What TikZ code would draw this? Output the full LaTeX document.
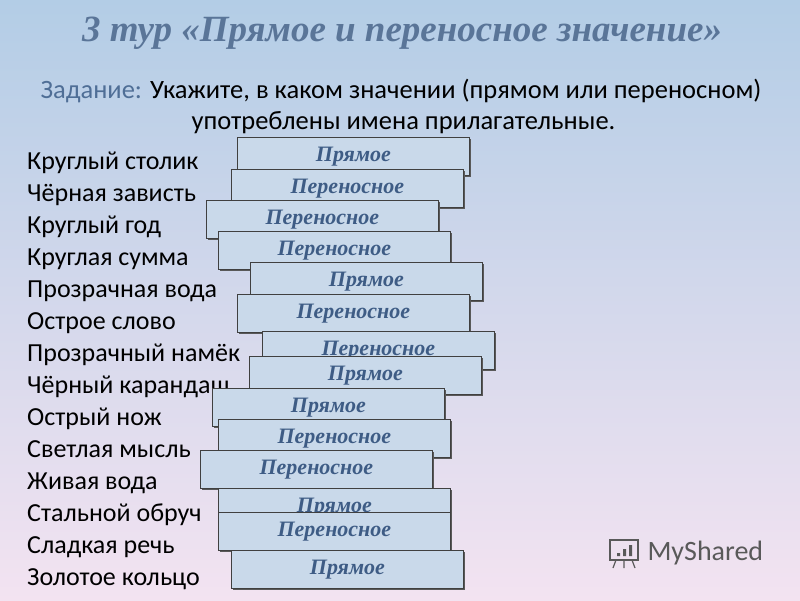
\documentclass[tikz,border=0pt]{standalone}
\usepackage{fontspec}
\setmainfont{Carlito}
\newfontfamily\ser{Liberation Serif}
\definecolor{bgtop}{HTML}{B3CDE6}
\definecolor{bgbot}{HTML}{F3E3F1}
\definecolor{ttl}{HTML}{5A7598}
\definecolor{boxf}{HTML}{C9D9EA}
\definecolor{boxt}{HTML}{3E5C85}
\definecolor{lbl}{HTML}{4F6E96}
\tikzset{ans/.style={draw=black!75,line width=0.8pt,fill=boxf,minimum width=232pt,minimum height=38pt,anchor=north west,inner sep=0pt,
  font=\ser\bfseries\itshape\fontsize{22}{22}\selectfont,text=boxt},
  shadowbox/.style={fill=black!65,minimum width=232pt,minimum height=38pt,anchor=north west,inner sep=0pt},
  item/.style={anchor=base west,font=\fontsize{26}{26}\selectfont,inner sep=0pt}}
\newcommand{\ansbox}[4]{%
  \node[shadowbox] at (#2+2,#3+2) {};
  \node[ans] (#1) at (#2,#3) {\raisebox{-3pt}{#4}};}
\begin{document}
\begin{tikzpicture}[x=1pt,y=-1pt]
\shade[top color=bgtop,bottom color=bgbot] (0,0) rectangle (800,600);
\useasboundingbox (0,0) rectangle (800,600);
\node[font=\ser\bfseries\itshape\fontsize{37}{37}\selectfont,text=ttl] (title) at (402,33) {3 тур «Прямое и переносное значение»};
\node[anchor=west,font=\fontsize{26.5}{26.5}\selectfont] (task1) at (37,91) {\textcolor{lbl}{Задание:} Укажите, в каком значении (прямом или переносном)};
\node[anchor=west,font=\fontsize{26.5}{26.5}\selectfont] (task2) at (188,123) {употреблены имена прилагательные.};
\foreach \t [count=\i] in {Круглый столик,Чёрная зависть,Круглый год,Круглая сумма,Прозрачная вода,Острое слово,Прозрачный намёк,Чёрный карандаш,Острый нож,Светлая мысль,Живая вода,Стальной обруч,Сладкая речь,Золотое кольцо}
  \node[item] (w\i) at (27,137+32*\i) {\t};
\ansbox{a1}{237}{137}{Прямое}
\ansbox{a2}{231}{169}{Переносное}
\ansbox{a3}{206}{200}{Переносное}
\ansbox{a4}{218}{231}{Переносное}
\ansbox{a5}{250}{262}{Прямое}
\ansbox{a6}{237}{294}{Переносное}
\ansbox{a7}{262}{331}{Переносное}
\ansbox{a8}{249}{356}{Прямое}
\ansbox{a9}{212}{388}{Прямое}
\ansbox{a10}{218}{419}{Переносное}
\ansbox{a11}{200}{450}{Переносное}
\ansbox{a12}{218}{488}{Прямое}
\ansbox{a13}{218}{512}{Переносное}
\ansbox{a14}{231}{550}{Прямое}
\node[anchor=west,font=\fontsize{28}{28}\selectfont,text=black!65] (logo) at (644,553) {MyShared};
\draw[black!65,line width=1.2pt] (610,540) rectangle (638,560);
\draw[black!65,line width=1.2pt] (616,560) -- (613,568) (624,560)--(624,568) (632,560)--(635,568);
\fill[black!65] (617,553) rectangle (620,556) (623,549) rectangle (626,556) (629,545) rectangle (632,556);
\end{tikzpicture}
\end{document}
